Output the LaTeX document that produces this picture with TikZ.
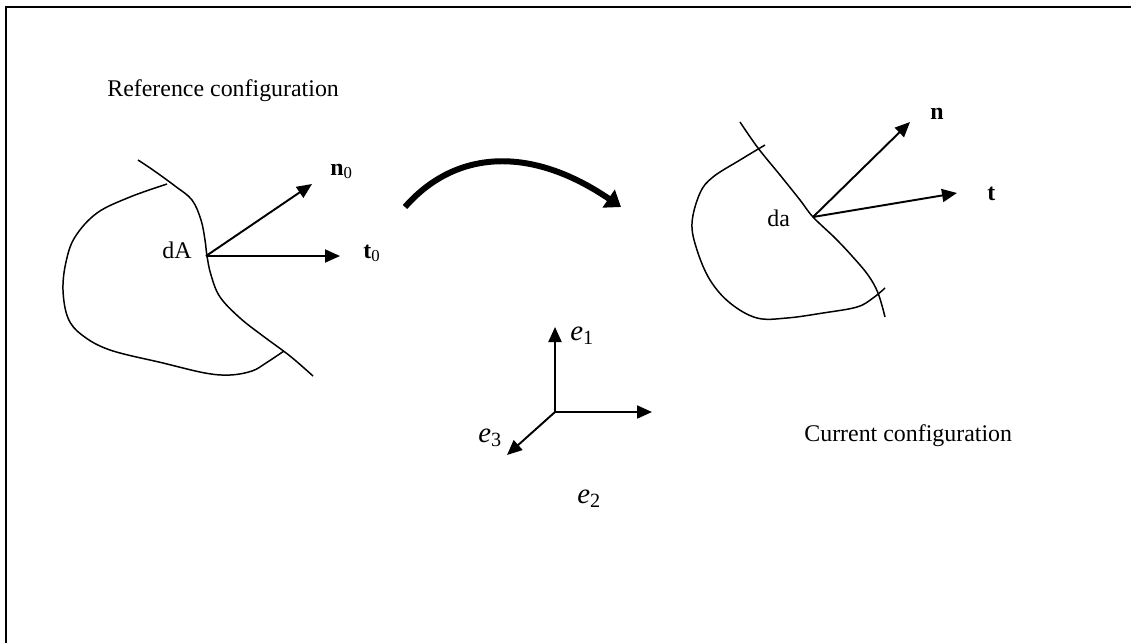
\documentclass[tikz,border=0pt]{standalone}
\usepackage{fontspec}
\setmainfont{Liberation Serif}
\usetikzlibrary{arrows.meta}
\begin{document}
\begin{tikzpicture}[x=0.02cm,y=-0.02cm,
  lbl/.style={inner sep=0pt, anchor=base west, font=\fontsize{13.6}{16}\selectfont},
  elbl/.style={inner sep=0pt, anchor=base west, font=\fontsize{16.4}{19}\selectfont},
  curve/.style={line width=0.85pt},
  vec/.style={line width=1.1pt, -{Triangle[length=0.3cm,width=0.26cm]}},
  bigarrow/.style={line width=3.4pt, -{Triangle[length=0.3cm,width=0.42cm]}},
  frameline/.style={line width=1.7pt}]
\useasboundingbox (0,0) rectangle (1131,643);
% frame
\draw[frameline] (6,643) -- (6,7) -- (1131,7);

% texts
\node[lbl] (refc) at (107,96) {Reference configuration};
\node[lbl] (curc) at (804,441) {Current configuration};

% reference body
\draw[curve] plot[smooth, tension=0.6] coordinates {(138,160) (153,170) (175,186) (192,200) (201,220) (205,240) (207,256) (211,275) (220,297) (240,318) (263,336) (290,356) (313,376)};
\draw[curve] plot[smooth, tension=0.6] coordinates {(167,184) (130,197) (97,213) (75,237) (66,262) (63,290) (68,318) (82,335) (110,350) (163,363) (205,373) (230,375) (252,371) (266,363) (284,351)};
\coordinate (dApt) at (206,256);
\coordinate (t0tip) at (340,256);
\coordinate (n0tip) at (312,184);
\node[lbl] (dA) at (162,258) {dA};
\draw[vec] (dApt) -- (t0tip);
\draw[vec] (dApt) -- (n0tip);
\node[lbl] (t0) at (363,258) {\textbf{t}\textsubscript{0}};
\node[lbl] (n0) at (330,175) {\textbf{n}\textsubscript{0}};

% deformation arrow
\coordinate (ma) at (405,207);
\coordinate (mb) at (621,207);
\draw[bigarrow] (ma) .. controls (455,150) and (530,145) .. (mb);

% current body
\draw[curve] plot[smooth, tension=0.6] coordinates {(740,122) (758,148) (780,175) (800,200) (813,217) (835,238) (852,256) (868,275) (878,293) (885,317)};
\draw[curve] plot[smooth, tension=0.6] coordinates {(765,145) (740,160) (713,177) (700,193) (692,223) (697,250) (710,280) (730,303) (757,318) (787,318) (823,313) (857,307) (873,298) (885,288)};
\coordinate (dapt) at (813,217);
\coordinate (ntip) at (910,122);
\coordinate (ttip) at (957,193);
\node[lbl] (da) at (767,226) {da};
\draw[vec] (dapt) -- (ntip);
\draw[vec] (dapt) -- (ttip);
\node[lbl] (n) at (930,119) {\textbf{n}};
\node[lbl] (t) at (987,200) {\textbf{t}};

% basis
\coordinate (o) at (555,412);
\coordinate (e1tip) at (555,327);
\coordinate (e2tip) at (652,412);
\coordinate (e3tip) at (507,455);
\draw[vec] (o) -- (e1tip);
\draw[vec] (o) -- (e2tip);
\draw[vec] (o) -- (e3tip);
\node[elbl] (e1) at (570,340) {\textit{e}\textsubscript{1}};
\node[elbl] (e2) at (577,503) {\textit{e}\textsubscript{2}};
\node[elbl] (e3) at (478,442) {\textit{e}\textsubscript{3}};
\end{tikzpicture}
\end{document}
